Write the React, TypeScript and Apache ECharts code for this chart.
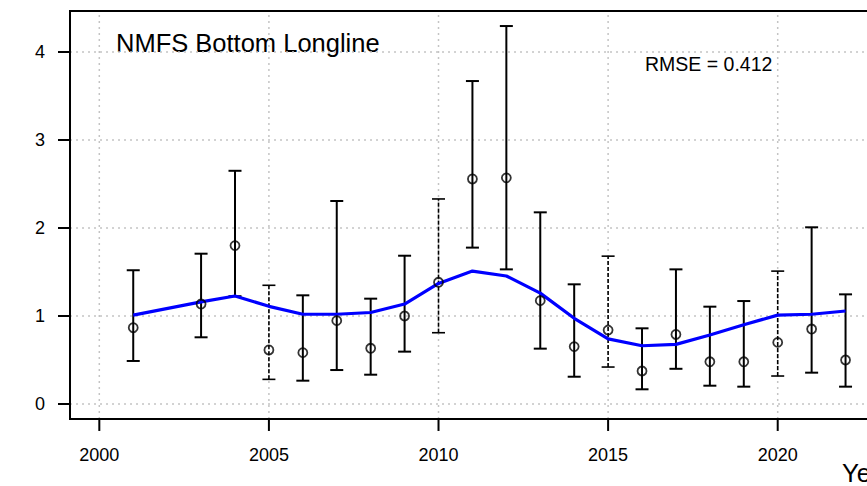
import React, { useEffect, useRef } from "react";
import * as echarts from "echarts";

const years = [2001, 2003, 2004, 2005, 2006, 2007, 2008, 2009, 2010, 2011, 2012, 2013, 2014, 2015, 2016, 2017, 2018, 2019, 2020, 2021, 2022];
const observed = [0.867, 1.136, 1.8, 0.614, 0.583, 0.947, 0.633, 1.0, 1.383, 2.557, 2.57, 1.174, 0.652, 0.84, 0.375, 0.79, 0.48, 0.48, 0.7, 0.852, 0.5];
const upper = [1.52, 1.708, 2.65, 1.349, 1.235, 2.307, 1.197, 1.685, 2.33, 3.67, 4.295, 2.178, 1.36, 1.68, 0.86, 1.53, 1.106, 1.17, 1.51, 2.008, 1.246];
const lower = [0.489, 0.758, 1.225, 0.28, 0.265, 0.386, 0.333, 0.595, 0.81, 1.777, 1.53, 0.629, 0.31, 0.42, 0.167, 0.4, 0.208, 0.197, 0.318, 0.356, 0.197];
const fitted = [1.01, 1.16, 1.227, 1.11, 1.02, 1.02, 1.04, 1.136, 1.37, 1.51, 1.455, 1.26, 0.974, 0.74, 0.662, 0.678, 0.784, 0.9, 1.01, 1.02, 1.057];
const dashedYears = [2005, 2010, 2015, 2020];
const xTicks = [2000, 2005, 2010, 2015, 2020];
const yTicks = [0, 1, 2, 3, 4];
const titleText = "NMFS Bottom Longline";
const rmseText = "RMSE = 0.412";
const xAxisTitle = "Year";

// axis extents (grid includes the tick margin); plot box limits inside it
const X_MIN = 1998.782;
const X_MAX = 2023.856;
const Y_MIN = -0.3068;
const Y_MAX = 4.4886;
const BOX_X0 = 1999.136;
const BOX_Y0 = -0.17;
const BOX_Y1 = 4.466;

const FONT = "'Liberation Sans', Arial, Helvetica, sans-serif";

export default function App() {
  const ref = useRef<HTMLDivElement>(null);
  useEffect(() => {
    if (!ref.current) return;
    const chart = echarts.init(ref.current, null, { renderer: "svg" });
    const barData = years.map((y, i) => [y, lower[i], upper[i], dashedYears.includes(y) ? 1 : 0]);
    const guideData = [...xTicks.map((v) => [v, 0]), ...yTicks.map((v) => [v, 1])];
    chart.setOption({
      animation: false,
      backgroundColor: "#ffffff",
      grid: {
        left: 58,
        top: 9,
        width: 850.5,
        height: 422,
        show: false,
      },
      xAxis: {
        type: "value",
        min: X_MIN,
        max: X_MAX,
        axisLine: { show: false },
        splitLine: { show: false },
        axisTick: { show: false },
        axisLabel: {
          customValues: xTicks,
          formatter: (v: number) => String(v),
          margin: 15,
          color: "#000",
          fontSize: 18,
          fontFamily: FONT,
        },
      },
      yAxis: {
        type: "value",
        min: Y_MIN,
        max: Y_MAX,
        axisLine: { show: false },
        splitLine: { show: false },
        axisTick: { show: false },
        axisLabel: {
          customValues: yTicks,
          formatter: (v: number) => String(v),
          margin: 13,
          color: "#000",
          fontSize: 18,
          fontFamily: FONT,
        },
      },
      series: [
        {
          // grid lines and axis ticks
          type: "custom",
          z: 1,
          silent: true,
          clip: false,
          data: guideData,
          encode: { x: 0 },
          renderItem: (params: any, api: any) => {
            const v = api.value(0);
            const kind = api.value(1);
            const gridStyle = { stroke: "#c4c4c4", lineWidth: 1.5, lineDash: [2, 4] };
            const tickStyle = { stroke: "#000", lineWidth: 2 };
            if (kind === 0) {
              const b = api.coord([v, BOX_Y0]);
              const t = api.coord([v, BOX_Y1]);
              return {
                type: "group",
                children: [
                  { type: "line", shape: { x1: b[0], y1: b[1], x2: t[0], y2: t[1] }, style: gridStyle },
                  { type: "line", shape: { x1: b[0], y1: b[1], x2: b[0], y2: b[1] + 12 }, style: tickStyle },
                ],
              };
            }
            const l = api.coord([BOX_X0, v]);
            const r = api.coord([X_MAX, v]);
            return {
              type: "group",
              children: [
                { type: "line", shape: { x1: l[0], y1: l[1], x2: r[0], y2: r[1] }, style: gridStyle },
                { type: "line", shape: { x1: l[0] - 12, y1: l[1], x2: l[0], y2: l[1] }, style: tickStyle },
              ],
            };
          },
        },
        {
          type: "custom",
          z: 2,
          silent: true,
          data: barData,
          encode: { x: 0, y: [1, 2] },
          renderItem: (params: any, api: any) => {
            const x = api.value(0);
            const lo = api.coord([x, api.value(1)]);
            const hi = api.coord([x, api.value(2)]);
            const dashed = api.value(3) === 1;
            const w = 6.5;
            const style = {
              stroke: "#000",
              lineWidth: dashed ? 1.6 : 2,
              lineDash: dashed ? [4, 2] : null,
            };
            const capStyle = { stroke: "#000", lineWidth: dashed ? 1.6 : 2 };
            return {
              type: "group",
              children: [
                { type: "line", shape: { x1: lo[0], y1: lo[1], x2: hi[0], y2: hi[1] }, style },
                { type: "line", shape: { x1: lo[0] - w, y1: lo[1], x2: lo[0] + w, y2: lo[1] }, style: capStyle },
                { type: "line", shape: { x1: hi[0] - w, y1: hi[1], x2: hi[0] + w, y2: hi[1] }, style: capStyle },
              ],
            };
          },
        },
        {
          type: "line",
          z: 3,
          silent: true,
          data: years.map((y, i) => [y, fitted[i]]),
          symbol: "none",
          lineStyle: { color: "#0000ff", width: 3.2 },
        },
        {
          type: "scatter",
          z: 4,
          silent: true,
          data: years.map((y, i) => [y, observed[i]]),
          symbol: "circle",
          symbolSize: 9,
          itemStyle: { color: "transparent", borderColor: "#000", borderWidth: 1.8 },
        },
        {
          // plot box
          type: "custom",
          z: 5,
          silent: true,
          clip: false,
          data: [[BOX_X0, BOX_Y0, X_MAX, BOX_Y1]],
          encode: { x: 0 },
          renderItem: (params: any, api: any) => {
            const a = api.coord([api.value(0), api.value(1)]);
            const b = api.coord([api.value(2), api.value(3)]);
            return {
              type: "polyline",
              shape: { points: [[b[0], b[1]], [a[0], b[1]], [a[0], a[1]], [b[0], a[1]]] },
              style: { stroke: "#000", lineWidth: 2, fill: null },
            };
          },
        },
      ],
      graphic: [
        {
          type: "text",
          left: 116,
          top: 30,
          style: { text: titleText, fontSize: 25.5, fontFamily: FONT, fill: "#000" },
        },
        {
          type: "text",
          left: 645,
          top: 54,
          style: { text: rmseText, fontSize: 19.5, fontFamily: FONT, fill: "#000" },
        },
        {
          type: "text",
          left: 842,
          top: 460,
          style: { text: xAxisTitle, fontSize: 25.5, fontFamily: FONT, fill: "#000" },
        },
      ],
    });
    return () => chart.dispose();
  }, []);
  return (
    <div style={{ position: "fixed", left: 0, top: 0, width: 867, height: 486, overflow: "hidden", background: "#fff" }}>
      <div ref={ref} style={{ width: 930, height: 486 }} />
    </div>
  );
}
